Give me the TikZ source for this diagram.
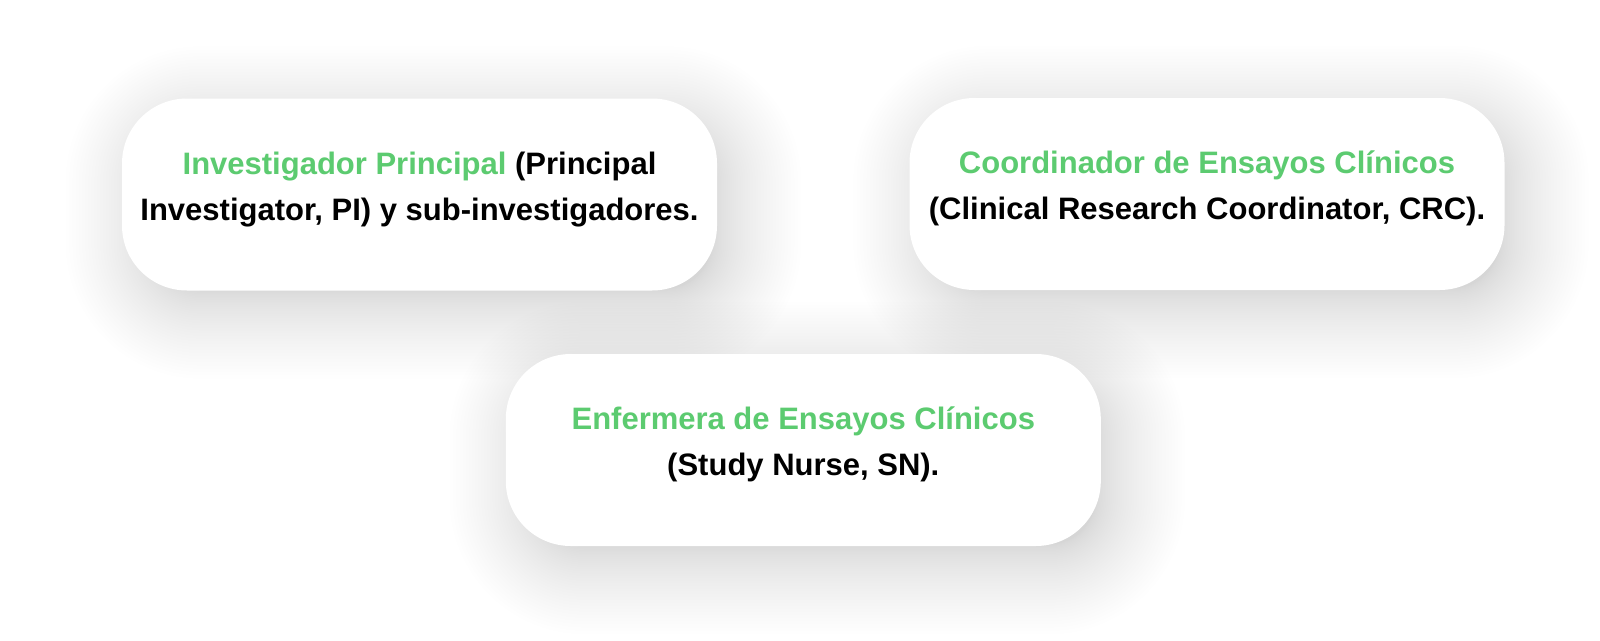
\documentclass[tikz,border=0pt]{standalone}
\usepackage{fontspec}
\setmainfont{Liberation Sans}
\usetikzlibrary{backgrounds,calc}
\definecolor{grn}{HTML}{5CCB70}
\tikzset{
  card/.style={rectangle, rounded corners=65pt, fill=white, draw=none,
    minimum width=595pt, minimum height=192pt, align=center, inner sep=0pt,
    text depth=17pt,
    font=\bfseries\fontsize{31}{46}\selectfont},
  shadowlayer/.style={fill=black, opacity=0.003}
}
\begin{document}
\begin{tikzpicture}[x=1pt,y=-1pt]
\useasboundingbox (0,0) rectangle (1600,640);
\node[card] (pi) at (419.5,194.5) {\textcolor{grn}{Investigador Principal} (Principal\\Investigator, PI) y sub-investigadores.};
\node[card] (crc) at (1207,194) {\textcolor{grn}{Coordinador de Ensayos Clínicos}\\(Clinical Research Coordinator, CRC).};
\node[card] (sn) at (803.3,450) {\textcolor{grn}{Enfermera de Ensayos Clínicos}\\(Study Nurse, SN).};
\begin{pgfonlayer}{background}
\fill[white] (0,0) rectangle (1600,640);
\foreach \n in {pi,crc,sn}{
  \foreach \k in {0,...,40}{
    \pgfmathsetmacro\ee{-20+90*(\k/40)^1.5}
    \pgfmathsetmacro\rr{65+\ee}
    \fill[shadowlayer, rounded corners=\rr pt]
      ($(\n.north west)+(14-\ee,18-\ee)$) rectangle ($(\n.south east)+(14+\ee,18+\ee)$);
  }
}
\end{pgfonlayer}
\end{tikzpicture}
\end{document}
